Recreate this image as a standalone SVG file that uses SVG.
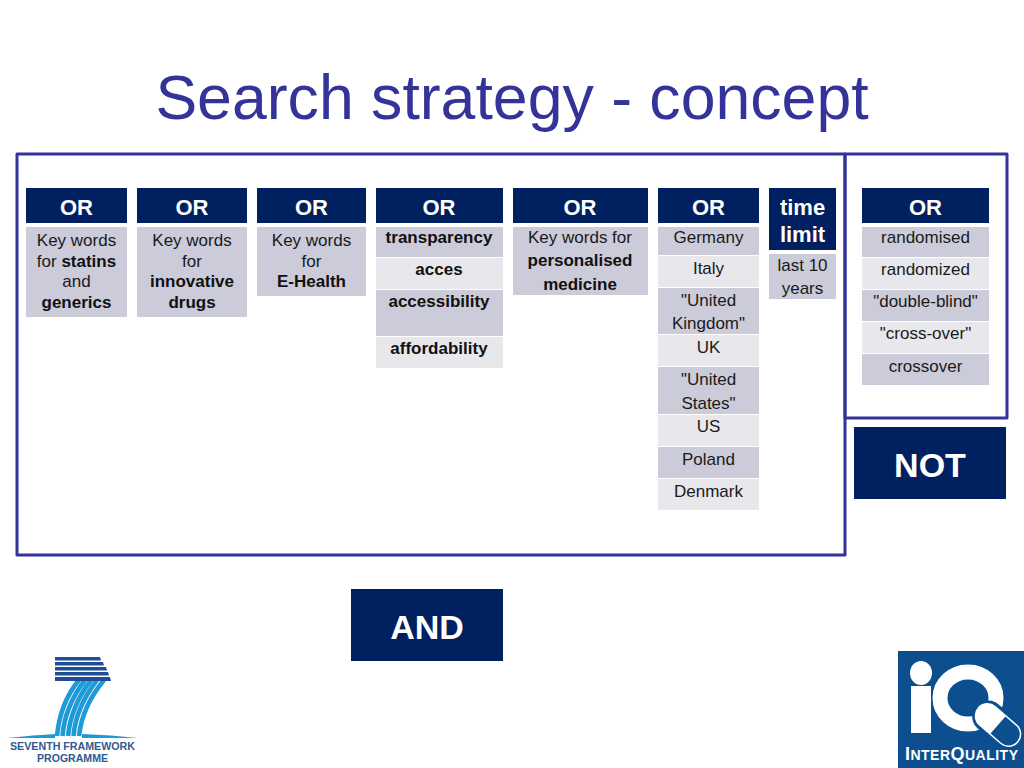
<svg xmlns="http://www.w3.org/2000/svg" width="1024" height="768" viewBox="0 0 1024 768">
<style>
text{font-family:"Liberation Sans",Arial,sans-serif;text-anchor:middle}
.title{font-size:62.6px;fill:#333399}
.h{fill:#002060}
.ht{font-size:22px;font-weight:bold;fill:#fff}
.big{font-size:34px;font-weight:bold;fill:#fff}
.d{fill:#cbcbd9}
.l{fill:#e7e7ec}
.t{font-size:17px;fill:#1a1a1a}
.b{font-weight:bold;fill:#111}
.frame{fill:none;stroke:#333399;stroke-width:3;stroke-linejoin:round}
.fp{font-size:10.5px;font-weight:bold;fill:#2f5a8f}
.band{fill:#1f4e96}
.arc{fill:none;stroke:#1e9ad6;stroke-width:4.6}
</style>
<rect width="1024" height="768" fill="#fff"/>
<text id="title" class="title" x="512" y="119">Search strategy - concept</text>
<g id="frames">
<rect class="frame" x="17" y="154" width="828" height="401"/>
<rect class="frame" x="845" y="154" width="162" height="264"/>
</g>
<g id="col1">
<rect class="h" x="26" y="188" width="101" height="35"/><text class="ht" x="76.500" y="215">OR</text>
<rect class="d" x="26" y="227" width="101" height="90"/>
<text class="t" x="76.500" y="246">Key words</text>
<text class="t" x="76.500" y="267">for <tspan class="b">statins</tspan></text>
<text class="t" x="76.500" y="287">and</text>
<text class="t b" x="76.500" y="308">generics</text>
</g>
<g id="col2">
<rect class="h" x="137" y="188" width="110" height="35"/><text class="ht" x="192" y="215">OR</text>
<rect class="d" x="137" y="227" width="110" height="90"/>
<text class="t" x="192" y="246">Key words</text>
<text class="t" x="192" y="267">for</text>
<text class="t b" x="192" y="287">innovative</text>
<text class="t b" x="192" y="308">drugs</text>
</g>
<g id="col3">
<rect class="h" x="257" y="188" width="109" height="35"/><text class="ht" x="311.500" y="215">OR</text>
<rect class="d" x="257" y="227" width="109" height="69"/>
<text class="t" x="311.500" y="246">Key words</text>
<text class="t" x="311.500" y="267">for</text>
<text class="t b" x="311.500" y="287">E-Health</text>
</g>
<g id="col4">
<rect class="h" x="376" y="188" width="127" height="35"/><text class="ht" x="439" y="215">OR</text>
<rect class="d" x="376" y="227" width="127" height="30"/>
<rect class="l" x="376" y="258" width="127" height="31"/>
<rect class="d" x="376" y="290" width="127" height="46"/>
<rect class="l" x="376" y="337" width="127" height="31"/>
<text class="t b" x="439" y="243">transparency</text>
<text class="t b" x="439" y="275">acces</text>
<text class="t b" x="439" y="307">accessibility</text>
<text class="t b" x="439" y="354">affordability</text>
</g>
<g id="col5">
<rect class="h" x="513" y="188" width="135" height="35"/><text class="ht" x="580" y="215">OR</text>
<rect class="d" x="513" y="227" width="135" height="68"/>
<text class="t" x="580" y="243">Key words for</text>
<text class="t b" x="580" y="266">personalised</text>
<text class="t b" x="580" y="290">medicine</text>
</g>
<g id="col6">
<rect class="h" x="658" y="188" width="101" height="35"/><text class="ht" x="708.500" y="215">OR</text>
<rect class="d" x="658" y="227" width="101" height="28"/>
<rect class="l" x="658" y="256" width="101" height="31"/>
<rect class="d" x="658" y="288" width="101" height="46"/>
<rect class="l" x="658" y="335" width="101" height="31"/>
<rect class="d" x="658" y="367" width="101" height="47"/>
<rect class="l" x="658" y="415" width="101" height="31"/>
<rect class="d" x="658" y="447" width="101" height="31"/>
<rect class="l" x="658" y="479" width="101" height="31"/>
<text class="t" x="708.500" y="243">Germany</text>
<text class="t" x="708.500" y="274">Italy</text>
<text class="t" x="708.500" y="306">"United</text>
<text class="t" x="708.500" y="329">Kingdom"</text>
<text class="t" x="708.500" y="353">UK</text>
<text class="t" x="708.500" y="385">"United</text>
<text class="t" x="708.500" y="409">States"</text>
<text class="t" x="708.500" y="432">US</text>
<text class="t" x="708.500" y="465">Poland</text>
<text class="t" x="708.500" y="497">Denmark</text>
</g>
<g id="col7">
<rect class="h" x="769" y="188" width="67" height="62"/>
<text class="ht" x="802.500" y="215">time</text>
<text class="ht" x="802.500" y="242">limit</text>
<rect class="d" x="769" y="254" width="67" height="45"/>
<text class="t" x="802.500" y="271">last 10</text>
<text class="t" x="802.500" y="294">years</text>
</g>
<g id="col8">
<rect class="h" x="862" y="188" width="127" height="35"/><text class="ht" x="925.500" y="215">OR</text>
<rect class="d" x="862" y="227" width="127" height="30"/>
<rect class="l" x="862" y="258" width="127" height="31"/>
<rect class="d" x="862" y="290" width="127" height="31"/>
<rect class="l" x="862" y="322" width="127" height="31"/>
<rect class="d" x="862" y="354" width="127" height="31"/>
<text class="t" x="925.500" y="243">randomised</text>
<text class="t" x="925.500" y="275">randomized</text>
<text class="t" x="925.500" y="307">"double-blind"</text>
<text class="t" x="925.500" y="339">"cross-over"</text>
<text class="t" x="925.500" y="372">crossover</text>
</g>
<g id="not"><rect class="h" x="854" y="427" width="152" height="72"/><text class="big" x="930" y="477">NOT</text></g>
<g id="and"><rect class="h" x="351" y="589" width="152" height="72"/><text class="big" x="427" y="639">AND</text></g>
<g id="logo-fp7">
<g class="arc">
<path d="M57 736C59 715 65 697 79 680"/>
<path d="M62.500 736C64 716 72 697 85 680"/>
<path d="M68 736C70 716 78 697 91 680"/>
<path d="M73.500 736C75 717 84 697 97 680"/>
<path d="M79 736C81 717 90 697 104 680"/>
</g>
<path class="band" d="M55 657H100L101 660.500H55ZM55 662H103L104 665.500H55ZM55 667H106L107 670.500H55ZM55 672H108L109 675.500H55ZM55 677H110L111 681H55Z"/>
<path d="M7 738Q35 735 55 734V738ZM82 734Q112 735 138 738H82Z" fill="#1e9ad6"/>
<text class="fp" x="72.500" y="750" textLength="125" lengthAdjust="spacingAndGlyphs">SEVENTH FRAMEWORK</text>
<text class="fp" x="72.500" y="762" textLength="71" lengthAdjust="spacingAndGlyphs">PROGRAMME</text>
</g>
<g id="logo-iq">
<rect x="898" y="651" width="126" height="117" fill="#0d4e8f"/>
<ellipse cx="921" cy="673" rx="11" ry="12" fill="#fff"/>
<rect x="911" y="686" width="20" height="47" fill="#fff"/>
<ellipse cx="968" cy="698" rx="28" ry="26" fill="none" stroke="#fff" stroke-width="15"/>
<g transform="rotate(41 998 725)">
<rect x="969" y="709" width="58" height="32" rx="16" fill="#0d4e8f"/>
<rect x="972" y="713" width="52" height="24" rx="12" fill="#0d4e8f" stroke="#fff" stroke-width="1.500"/>
<path d="M998 713H984A12 12 0 0 0 984 737H998Z" fill="#fff"/>
</g>
<text x="961.500" y="760" font-size="18" font-weight="bold" fill="#fff" font-family="Liberation Serif" textLength="113" lengthAdjust="spacing">I<tspan font-size="14">NTER</tspan>Q<tspan font-size="14">UALITY</tspan></text>
</g>
</svg>
